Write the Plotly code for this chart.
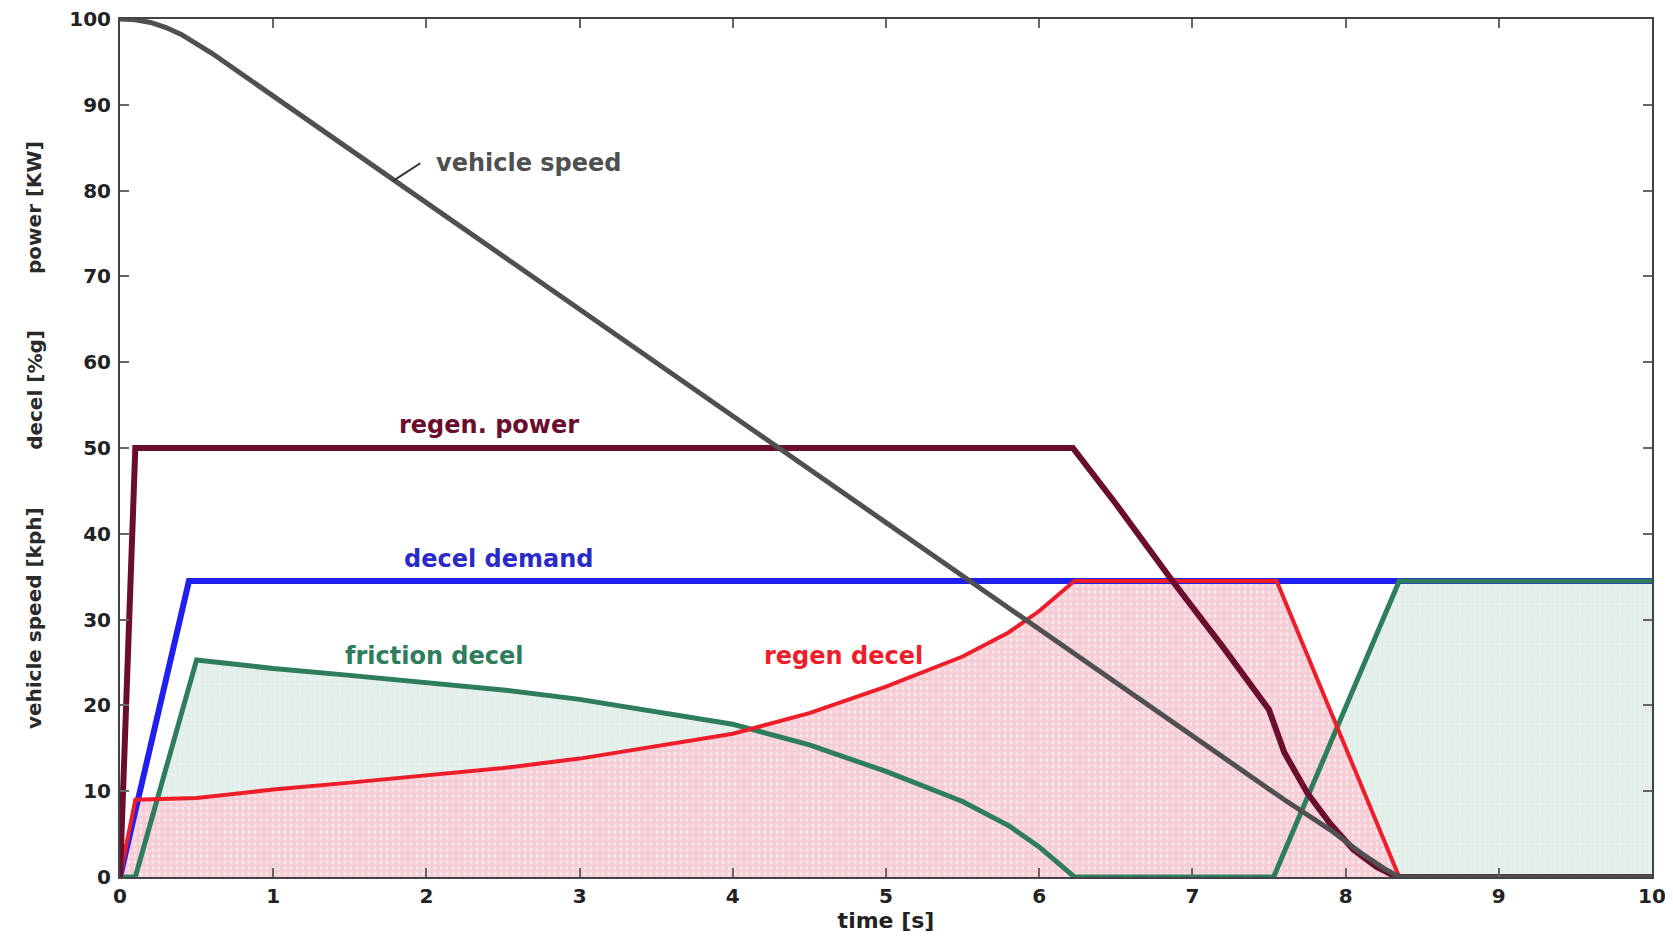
import plotly.graph_objects as go

# ---- data ----
t_speed = [0, 0.1, 0.2, 0.3, 0.4, 0.5, 0.6, 1.5, 2.5, 3.5, 4.3, 5.0, 6.0, 7.0, 7.6, 7.9, 8.1, 8.25, 8.35, 10]
v_speed = [100, 99.9, 99.6, 99, 98.2, 97.1, 96, 84.8, 72.4, 60, 50, 41.3, 28.9, 16.5, 9, 5.5, 2.8, 1, 0, 0]

t_power = [0, 0.1, 6.22, 6.5, 6.87, 7.2, 7.5, 7.6, 7.75, 7.9, 8.05, 8.2, 8.3, 8.35, 10]
v_power = [0, 50, 50, 43.5, 34.5, 26.8, 19.5, 14.5, 9.8, 6.2, 3.2, 1.2, 0.3, 0, 0]

t_demand = [0, 0.45, 10]
v_demand = [0, 34.5, 34.5]

t_fric = [0, 0.1, 0.5, 1, 1.5, 2, 2.5, 3, 3.5, 4, 4.5, 5, 5.5, 5.8, 6, 6.23, 7.53, 8.35, 10]
v_fric = [0, 0, 25.3, 24.3, 23.5, 22.6, 21.8, 20.7, 19.3, 17.8, 15.4, 12.3, 8.8, 6, 3.5, 0, 0, 34.5, 34.5]

t_regen = [0, 0.1, 0.5, 1, 1.5, 2, 2.5, 3, 3.5, 4, 4.5, 5, 5.5, 5.8, 6, 6.23, 7.55, 8.35, 10]
v_regen = [0, 9, 9.2, 10.2, 11, 11.9, 12.7, 13.8, 15.2, 16.7, 19.1, 22.2, 25.7, 28.5, 31, 34.5, 34.5, 0, 0]

x_ticks = list(range(0, 11))
y_ticks = list(range(0, 101, 10))

labels = ["vehicle speed", "regen. power", "decel demand", "friction decel", "regen decel"]
label_t = [2.67, 2.41, 2.47, 2.05, 4.72]
label_v = [83.2, 52.7, 37.1, 25.8, 25.8]

# ---- styles ----
C_SPEED = "#505050"
C_POWER = "#6b0d2c"
C_DEMAND = "#1f1fee"
C_FRIC = "#2e7d5c"
C_REGEN = "#ee1d2a"
FONT = "DejaVu Sans, Liberation Sans, Arial, sans-serif"

fig = go.Figure()

# fills
fig.add_trace(go.Scatter(
    x=t_fric, y=v_fric, mode="lines", line=dict(width=0), fill="tozeroy",
    fillcolor="#e4efeb",
    fillpattern=dict(shape="+", bgcolor="#e6f1ec", fgcolor="#c9ddd5", size=5, solidity=0.15),
    hoverinfo="skip", showlegend=False))
fig.add_trace(go.Scatter(
    x=t_regen, y=v_regen, mode="lines", line=dict(width=0), fill="tozeroy",
    fillcolor="#f6d3d9",
    fillpattern=dict(shape=".", bgcolor="#f5cdd5", fgcolor="#ffffff", size=6, solidity=0.25),
    hoverinfo="skip", showlegend=False))

# lines
fig.add_trace(go.Scatter(x=t_demand, y=v_demand, mode="lines",
                         line=dict(color=C_DEMAND, width=6), showlegend=False))
fig.add_trace(go.Scatter(x=t_fric, y=v_fric, mode="lines",
                         line=dict(color=C_FRIC, width=5), showlegend=False))
fig.add_trace(go.Scatter(x=t_regen, y=v_regen, mode="lines",
                         line=dict(color=C_REGEN, width=4), showlegend=False))
fig.add_trace(go.Scatter(x=t_power, y=v_power, mode="lines",
                         line=dict(color=C_POWER, width=6), showlegend=False))
fig.add_trace(go.Scatter(x=t_speed, y=v_speed, mode="lines",
                         line=dict(color=C_SPEED, width=5), showlegend=False))

label_colors = [C_SPEED, C_POWER, "#2a2ac8", C_FRIC, C_REGEN]
for txt, tx, vy, col in zip(labels, label_t, label_v, label_colors):
    fig.add_annotation(x=tx, y=vy, xref="x", yref="y", text=txt, showarrow=False,
                       font=dict(family=FONT, size=24, color=col, weight="bold"))

# leader line for vehicle speed label
fig.add_annotation(x=1.78, y=81.1, xref="x", yref="y", ax=1.97, ay=83.3, axref="x", ayref="y",
                   text="", showarrow=True, arrowhead=0, arrowwidth=2, arrowcolor="#333333")

# y-axis title in three parts
for txt, py in [("vehicle speed [kph]", 0.302), ("decel [%g]", 0.568), ("power [KW]", 0.78)]:
    fig.add_annotation(x=-0.056, y=py, xref="paper", yref="paper", text=txt, textangle=-90,
                       showarrow=False, xanchor="center", yanchor="middle",
                       font=dict(family=FONT, size=20, color="#2a2a2a", weight="bold"))

fig.update_layout(
    width=1673, height=942,
    margin=dict(l=112, r=29, t=11, b=73),
    paper_bgcolor="white", plot_bgcolor="white",
    font=dict(family=FONT, color="#222222"),
    showlegend=False,
)
fig.update_xaxes(
    range=[0, 10], tickvals=x_ticks, ticktext=[str(v) for v in x_ticks],
    showgrid=False, zeroline=False, showline=True, linecolor="#444444", linewidth=2,
    mirror="ticks", ticks="inside", ticklen=9, tickwidth=1.5, tickcolor="#666666",
    tickfont=dict(family=FONT, size=20, color="#222222", weight="bold"),
    title=dict(text="time [s]", standoff=2, font=dict(family=FONT, size=22, color="#222222", weight="bold")),
    automargin=False, ticklabeloverflow="allow",
)
fig.update_yaxes(
    range=[0, 100], tickvals=y_ticks, ticktext=[str(v) for v in y_ticks],
    showgrid=False, zeroline=False, showline=True, linecolor="#444444", linewidth=2,
    mirror="ticks", ticks="inside", ticklen=9, tickwidth=1.5, tickcolor="#666666",
    tickfont=dict(family=FONT, size=20, color="#222222", weight="bold"),
    ticklabelstandoff=3, automargin=False, ticklabeloverflow="allow",
)

fig.write_html("out.html")
